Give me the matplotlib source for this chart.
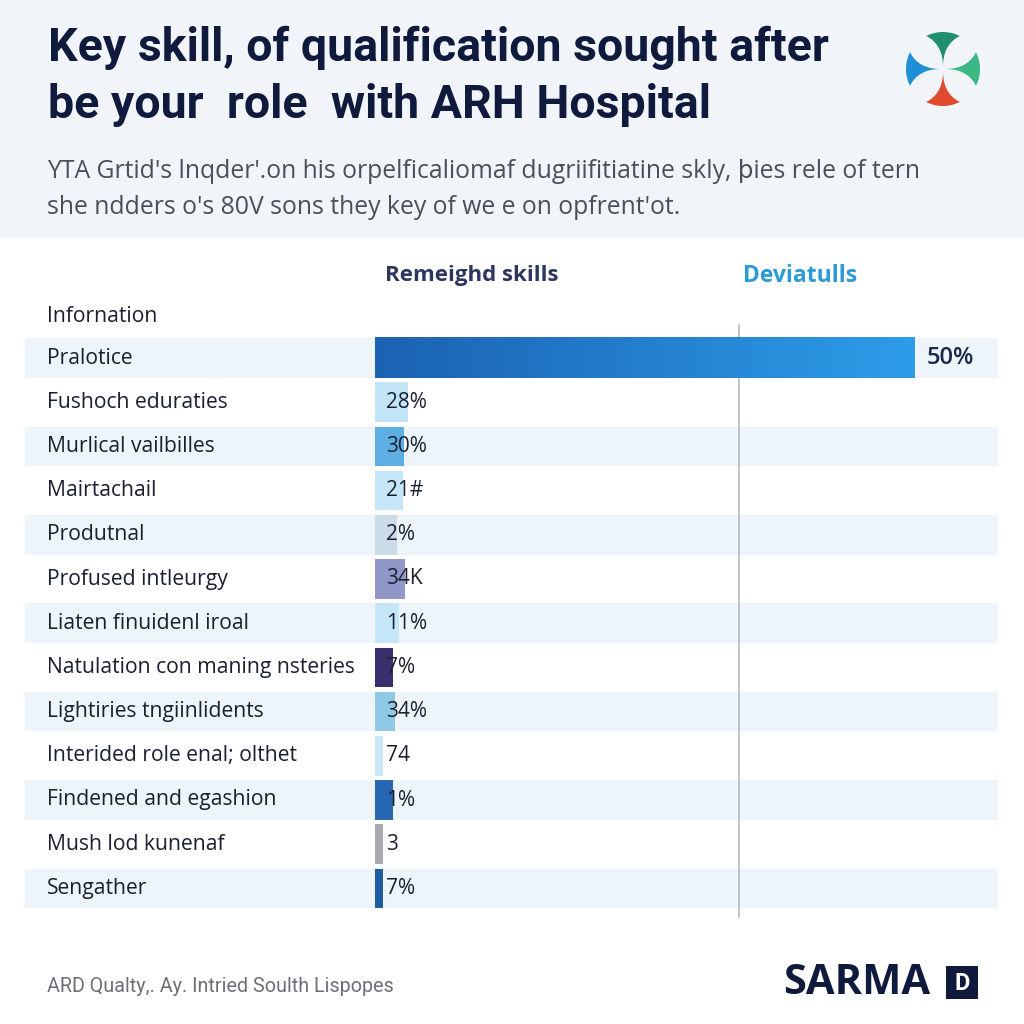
import matplotlib.pyplot as plt
import matplotlib.patches as patches
from matplotlib.colors import LinearSegmentedColormap
import numpy as np

# ---- data ----
skills = ["Pralotice", "Fushoch eduraties", "Murlical vailbilles", "Mairtachail",
          "Produtnal", "Profused intleurgy", "Liaten finuidenl iroal",
          "Natulation con maning nsteries", "Lightiries tngiinlidents",
          "Interided role enal; olthet", "Findened and egashion",
          "Mush lod kunenaf", "Sengather"]
values = [50, 3.1, 2.7, 2.6, 2.0, 2.8, 2.2, 1.7, 1.85, 0.75, 1.7, 0.75, 0.75]
value_labels = ["50%", "28%", "30%", "21#", "2%", "34K", "11%", "7%", "34%",
                "74", "1%", "3", "7%"]
bar_colors = [None, "#c2e4f7", "#5eb0e2", "#c4e6f8", "#cbdbe8", "#9198c9",
              "#c4e6f8", "#3a2f6c", "#8fc9e6", "#cbe8f8", "#2767b2",
              "#a8aaae", "#1f5ca3"]

title_lines = ["Key skill, of qualification sought after",
               "be your  role  with ARH Hospital"]
subtitle_lines = ["YTA Grtid's lnqder'.on his orpelficaliomaf dugriifitiatine skly, ϸies rele of tern",
                  "she ndders o's 80V sons they key of we e on opfrent'ot."]
col_headers = ["Remeighd skills", "Deviatulls"]
footer = "ARD Qualty,. Ay. Intried Soulth Lispopes"

W = 1024
fig = plt.figure(figsize=(10.24, 10.24), dpi=100)
fig.patch.set_facecolor("white")


def fx(px):
    return px / W


def fy(py):
    return 1 - py / W


# header band
fig.patches.append(patches.Rectangle((0, fy(238)), 1, 238 / W, transform=fig.transFigure,
                                     facecolor="#f1f5f9", edgecolor="none", zorder=-5))

navy = "#0f1a3c"
fig.text(fx(48), fy(48), title_lines[0], fontsize=33.5, fontweight="bold", family="Roboto",
         color=navy, va="center")
fig.text(fx(48), fy(105), title_lines[1], fontsize=33.5, fontweight="bold", family="Roboto",
         color=navy, va="center")
sub_font = ["Open Sans", "DejaVu Sans"]
fig.text(fx(47), fy(172), subtitle_lines[0], fontsize=17.8, family=sub_font,
         color="#4a4f5a", va="center")
fig.text(fx(47), fy(208), subtitle_lines[1], fontsize=17.8, family=sub_font,
         color="#4a4f5a", va="center")

# column headers
fig.text(fx(472), fy(276), col_headers[0], fontsize=16, fontweight="bold", family="Open Sans",
         color="#2d3561", va="center", ha="center")
fig.text(fx(800), fy(276), col_headers[1], fontsize=16.5, fontweight="bold", family="Open Sans",
         color="#2a9bd6", va="center", ha="center")
fig.text(fx(47), fy(317), "Infornation", fontsize=15.2, family="Open Sans",
         color="#1b2030", va="center")

# ---- bar axes ----
px_per_unit = 10.8
left_px, right_px = 25, 998
row_px = 44.2
top_px = 358 - row_px / 2
n = len(skills)
ax = fig.add_axes([fx(left_px), fy(top_px + n * row_px), (right_px - left_px) / W, n * row_px / W])
xmin = -(375 - left_px) / px_per_unit
xmax = (right_px - 375) / px_per_unit

y = np.arange(n)
for i in range(n):
    if i % 2 == 0:
        ax.add_patch(patches.Rectangle((xmin, i - 0.45), xmax - xmin, 0.9,
                                       facecolor="#edf4fa", edgecolor="none", zorder=0))

# gradient first bar
grad = np.linspace(0, 1, 256).reshape(1, -1)
cmap = LinearSegmentedColormap.from_list("g", ["#1b62b2", "#2d9de9"])
ax.imshow(grad, cmap=cmap, extent=[0, values[0], 0.46, -0.46], aspect="auto", zorder=2)

ax.barh(y[1:], values[1:], height=0.9, color=bar_colors[1:], zorder=2)

# vertical reference line
ax.plot([(739 - 375) / px_per_unit] * 2, [-0.75, n - 0.35], color="#b5b9be", lw=1.2,
        zorder=1, clip_on=False)

for i, lab in enumerate(skills):
    ax.text((47 - left_px) / (right_px - left_px), i, lab, transform=ax.get_yaxis_transform(),
            fontsize=15.2, family="Open Sans", color="#1b2030", va="center")

ax.text(values[0] + 1.1, 0, value_labels[0], fontsize=17, fontweight="semibold", family="Open Sans",
        color="#1b2a4a", va="center", zorder=3)
for i in range(1, n):
    ax.text(1.0, i, value_labels[i], fontsize=15, family="Open Sans",
            color="#1b2030", va="center", zorder=3)

ax.set_xlim(xmin, xmax)
ax.set_ylim(n - 0.5, -0.5)
ax.axis("off")

# ---- logo ----
lax = fig.add_axes([fx(906), fy(106), 74 / W, 74 / W])
lax.set_xlim(-1, 1)
lax.set_ylim(-1, 1)
lax.set_aspect("equal")
lax.axis("off")
arms = [(90, "#1f8f6e"), (0, "#3cb884"), (270, "#e04a2e"), (180, "#1e8fd6")]
r = np.linspace(0.06, 1, 30)
for ang, c in arms:
    half = np.deg2rad(27) * r ** 1.6
    base = np.deg2rad(ang)
    a1 = base - half
    a2 = base + half
    arc = np.linspace(base - half[-1], base + half[-1], 30)
    xs = np.concatenate([r * np.cos(a1), np.cos(arc), (r * np.cos(a2))[::-1]])
    ys = np.concatenate([r * np.sin(a1), np.sin(arc), (r * np.sin(a2))[::-1]])
    lax.add_patch(patches.Polygon(np.column_stack([xs, ys]), closed=True,
                                  facecolor=c, edgecolor="none"))

# ---- footer ----
fig.text(fx(47), fy(986), footer, fontsize=14.2, family="Roboto", color="#6b6f78", va="center")
fig.text(fx(783), fy(983), "SARMA", fontsize=30, fontweight="bold", family="Open Sans",
         color=navy, va="center")
fig.patches.append(patches.Rectangle((fx(946), fy(999)), 32 / W, 33 / W, transform=fig.transFigure,
                                     facecolor=navy, edgecolor="none"))
fig.text(fx(962), fy(983), "D", fontsize=17, fontweight="bold", family="Roboto",
         color="white", va="center", ha="center")

fig.savefig("out.png", dpi=100)
